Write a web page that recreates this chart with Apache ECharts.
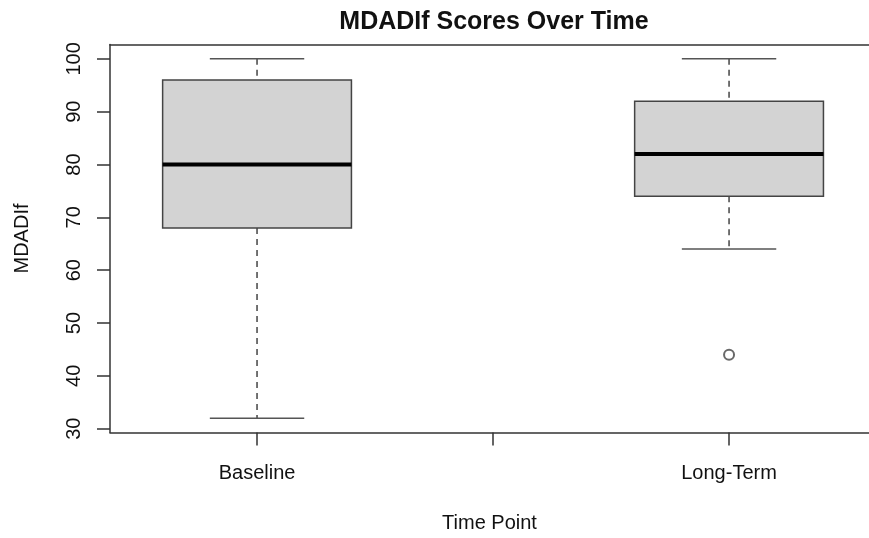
<!DOCTYPE html>
<html>
<head>
<meta charset="utf-8">
<title>MDADIf Scores Over Time</title>
<script src="https://cdn.jsdelivr.net/npm/echarts@6/dist/echarts.min.js"></script>
<style>
  html, body { margin: 0; padding: 0; background: #fff; }
  #main { width: 869px; height: 538px; }
</style>
</head>
<body>
<div id="main"></div>
<script>
// categories along the x axis (the middle slot has a tick but no label)
var categories = ['Baseline', '', 'Long-Term'];
var boxPos = [0, 2];
// five-number summaries per box
var boxMin = [32, 64];
var boxQ1 = [68, 74];
var boxMedian = [80, 82];
var boxQ3 = [96, 92];
var boxMax = [100, 100];
// outliers: [position, value]
var outliers = [[2, 44]];
var yTicks = [30, 40, 50, 60, 70, 80, 90, 100];

var font = "'Liberation Sans', Arial, sans-serif";
var axisColor = '#333';

var myChart = echarts.init(document.getElementById('main'));

var boxData = boxPos.map(function (p, i) {
    return [p, boxMin[i], boxQ1[i], boxMedian[i], boxQ3[i], boxMax[i]];
});

function renderBox(params, api) {
    var x = api.value(0);
    var pMin = api.coord([x, api.value(1)]);
    var pQ1 = api.coord([x, api.value(2)]);
    var pMed = api.coord([x, api.value(3)]);
    var pQ3 = api.coord([x, api.value(4)]);
    var pMax = api.coord([x, api.value(5)]);
    var boxW = api.size([0.8, 0])[0];
    var capW = api.size([0.4, 0])[0];
    var cx = pMed[0];
    var whisker = { stroke: '#444', lineWidth: 1.5, lineDash: [6, 5] };
    var cap = { stroke: '#555', lineWidth: 1.5 };
    return {
        type: 'group',
        children: [
            { type: 'line', shape: { x1: cx, y1: pMax[1], x2: cx, y2: pQ3[1] }, style: whisker },
            { type: 'line', shape: { x1: cx, y1: pQ1[1], x2: cx, y2: pMin[1] }, style: whisker },
            { type: 'line', shape: { x1: cx - capW / 2, y1: pMax[1], x2: cx + capW / 2, y2: pMax[1] }, style: cap },
            { type: 'line', shape: { x1: cx - capW / 2, y1: pMin[1], x2: cx + capW / 2, y2: pMin[1] }, style: cap },
            {
                type: 'rect',
                shape: { x: cx - boxW / 2, y: pQ3[1], width: boxW, height: pQ1[1] - pQ3[1] },
                style: { fill: '#d3d3d3', stroke: '#444', lineWidth: 1.5 }
            },
            {
                type: 'line',
                shape: { x1: cx - boxW / 2, y1: pMed[1], x2: cx + boxW / 2, y2: pMed[1] },
                style: { stroke: '#000', lineWidth: 4 }
            }
        ]
    };
}

var option = {
    backgroundColor: '#fff',
    animation: false,
    textStyle: { fontFamily: font },
    title: {
        text: 'MDADIf Scores Over Time',
        left: 489,
        textAlign: 'center',
        top: 5,
        textStyle: { fontFamily: font, fontSize: 25, fontWeight: 'bold', color: '#111' }
    },
    grid: { left: 110, right: 0, top: 44.5, bottom: 105.5, containLabel: false, outerBoundsMode: 'none' },
    xAxis: [
        {
            type: 'value',
            min: -0.623,
            max: 2.593,
            position: 'bottom',
            name: 'Time Point',
            nameLocation: 'middle',
            nameGap: 81,
            nameTextStyle: { fontSize: 20, color: '#111', fontFamily: font },
            axisLine: { show: true, onZero: false, lineStyle: { color: axisColor, width: 1.5 } },
            axisTick: { show: true, length: 13, customValues: [0, 1, 2], lineStyle: { color: axisColor, width: 1.5 } },
            axisLabel: {
                show: true,
                customValues: [0, 1, 2],
                margin: 31,
                fontSize: 20,
                color: '#111',
                formatter: function (v) { return categories[Math.round(v)] || ''; }
            },
            splitLine: { show: false }
        },
        {
            type: 'value',
            min: -0.623,
            max: 2.593,
            position: 'top',
            axisLine: { show: true, onZero: false, lineStyle: { color: axisColor, width: 1.5 } },
            axisTick: { show: false },
            axisLabel: { show: false },
            splitLine: { show: false }
        }
    ],
    yAxis: {
        type: 'value',
        min: 29.28,
        max: 102.72,
        name: 'MDADIf',
        nameLocation: 'middle',
        nameGap: 78,
        nameRotate: 90,
        nameTextStyle: { fontSize: 20, color: '#111', fontFamily: font },
        axisLine: { show: true, onZero: false, lineStyle: { color: axisColor, width: 1.5 } },
        axisTick: { show: true, length: 13, customValues: yTicks, lineStyle: { color: axisColor, width: 1.5 } },
        axisLabel: { show: true, customValues: yTicks, rotate: 90, margin: 26, fontSize: 20, color: '#111' },
        splitLine: { show: false }
    },
    series: [
        {
            type: 'custom',
            xAxisIndex: 0,
            renderItem: renderBox,
            encode: { x: 0, y: [1, 2, 3, 4, 5] },
            data: boxData
        },
        {
            type: 'scatter',
            xAxisIndex: 0,
            symbol: 'emptyCircle',
            symbolSize: 10,
            itemStyle: { color: '#444', borderColor: '#444', borderWidth: 1.5 },
            data: outliers
        }
    ]
};

myChart.setOption(option);
</script>
</body>
</html>
